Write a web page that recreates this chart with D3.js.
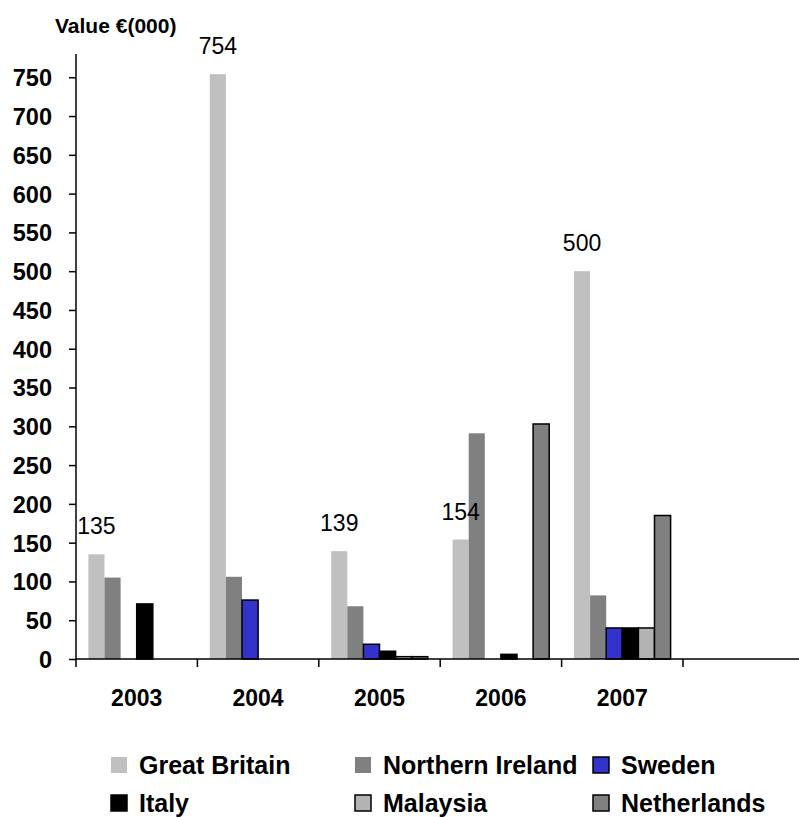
<!DOCTYPE html>
<html>
<head>
<meta charset="utf-8">
<script src="https://cdn.jsdelivr.net/npm/d3@7"></script>
<style>
  html, body { margin: 0; padding: 0; background: #ffffff; }
  svg { display: block; }
  text { font-family: "Liberation Sans", Arial, sans-serif; fill: #000; }
</style>
</head>
<body>
<svg id="chart" width="799" height="817"></svg>
<script>
// ---- data ----
const categories = ["2003", "2004", "2005", "2006", "2007", ""];
const seriesNames = ["Great Britain", "Northern Ireland", "Sweden", "Italy", "Malaysia", "Netherlands"];
const greatBritain    = [135, 754, 139, 154, 500];
const northernIreland = [105, 106, 68, 291, 82];
const sweden          = [0, 76, 19, 0, 40];
const italy           = [71, 0, 10, 6, 40];
const malaysia        = [0, 0, 3, 0, 40];
const netherlands     = [0, 0, 3, 303, 185];
const yTicks = [0, 50, 100, 150, 200, 250, 300, 350, 400, 450, 500, 550, 600, 650, 700, 750];
const labelledSeries = "Great Britain";

// ---- styles ----
const fills   = ["#c0c0c0", "#808080", "#3333cc", "#000000", "#b3b3b3", "#808080"];
const strokes = [null, null, "#000", "#000", "#000", "#000"];
const seriesValues = [greatBritain, northernIreland, sweden, italy, malaysia, netherlands];

const svg = d3.select("#chart");
const plotLeft = 76, plotBottom = 659, plotTop = 54;
const bandStep = 121.4;

const x = d3.scaleBand().domain(categories)
  .range([plotLeft, plotLeft + bandStep * categories.length])
  .paddingInner(0).paddingOuter(0);
const xInner = d3.scaleBand().domain(seriesNames)
  .range([0, x.bandwidth()]).paddingInner(0).paddingOuter(0.77);
const y = d3.scaleLinear().domain([0, 780]).range([plotBottom, plotTop]);

// ---- bars ----
const data = [];
seriesNames.forEach((s, si) => {
  seriesValues[si].forEach((v, ci) => {
    data.push({ series: s, si, cat: categories[ci], value: v });
  });
});

svg.append("g").selectAll("rect")
  .data(data.filter(d => d.value > 0))
  .join("rect")
  .attr("x", d => x(d.cat) + xInner(d.series))
  .attr("y", d => y(d.value))
  .attr("width", xInner.bandwidth())
  .attr("height", d => y(0) - y(d.value))
  .attr("fill", d => fills[d.si])
  .attr("stroke", d => strokes[d.si] || "none")
  .attr("stroke-width", 1.5);

// ---- value labels ----
svg.append("g").selectAll("text")
  .data(data.filter(d => d.series === labelledSeries))
  .join("text")
  .attr("x", d => x(d.cat) + xInner(d.series) + xInner.bandwidth() / 2)
  .attr("y", d => y(d.value) - 20)
  .attr("text-anchor", "middle")
  .style("font-size", "23px")
  .text(d => d.value);

// ---- y axis ----
const yAxis = d3.axisLeft(y).tickValues(yTicks).tickSize(7).tickPadding(17);
const gy = svg.append("g").attr("transform", `translate(${plotLeft},0)`).call(yAxis);
gy.select(".domain").attr("d", `M-0,${plotTop}V${plotBottom}`).attr("stroke", "#000").attr("stroke-width", 1.5);
gy.selectAll(".tick line").attr("stroke", "#000").attr("stroke-width", 1.5);
gy.selectAll(".tick text")
  .style("font-family", '"Liberation Sans", Arial, sans-serif')
  .style("font-size", "23.5px").style("font-weight", "bold")
  .attr("dy", "0.36em");

// ---- x axis (ticks between categories) ----
const gx = svg.append("g");
gx.append("line")
  .attr("x1", plotLeft).attr("x2", x.range()[1])
  .attr("y1", plotBottom).attr("y2", plotBottom)
  .attr("stroke", "#000").attr("stroke-width", 1.5);
gx.selectAll("line.tick")
  .data(categories.concat(["__end"]))
  .join("line").attr("class", "tick")
  .attr("x1", (d, i) => plotLeft + i * x.step())
  .attr("x2", (d, i) => plotLeft + i * x.step())
  .attr("y1", plotBottom).attr("y2", plotBottom + 8)
  .attr("stroke", "#000").attr("stroke-width", 1.5);
gx.selectAll("text")
  .data(categories)
  .join("text")
  .attr("x", d => x(d) + x.bandwidth() / 2)
  .attr("y", 706)
  .attr("text-anchor", "middle")
  .style("font-size", "23px").style("font-weight", "bold")
  .text(d => d);

// ---- axis title ----
svg.append("text")
  .attr("x", 55).attr("y", 33)
  .style("font-size", "21px").style("font-weight", "bold")
  .text("Value €(000)");

// ---- legend ----
const legendCols = [111, 355, 593];
const legendRows = [757, 795];
const legend = svg.append("g").selectAll("g")
  .data(seriesNames)
  .join("g")
  .attr("transform", (d, i) => `translate(${legendCols[i % 3]},${legendRows[Math.floor(i / 3)]})`);
legend.append("rect")
  .attr("width", 16).attr("height", 16)
  .attr("fill", (d, i) => fills[i])
  .attr("stroke", (d, i) => strokes[i] || "none")
  .attr("stroke-width", 1.5);
legend.append("text")
  .attr("x", 28).attr("y", 17)
  .style("font-size", "25px").style("font-weight", "bold")
  .text(d => d);
</script>
</body>
</html>
